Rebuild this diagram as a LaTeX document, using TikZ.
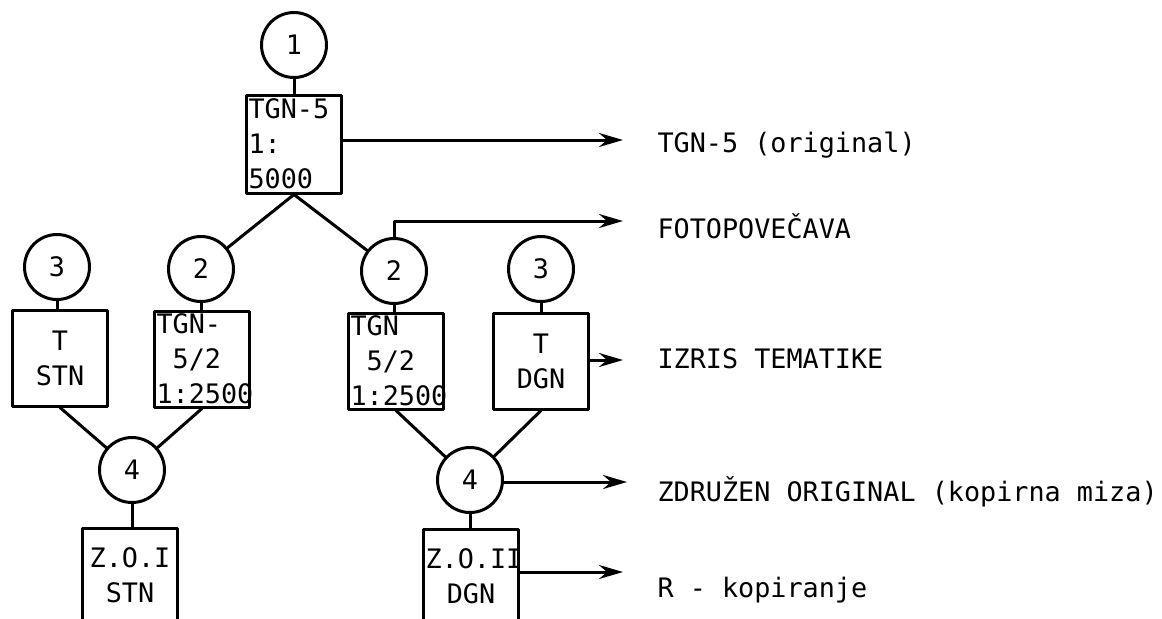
\documentclass[tikz,border=0pt]{standalone}
\usepackage{fontspec}
\newfontfamily\typefont{DejaVu Sans Mono}
\usetikzlibrary{arrows.meta}

\begin{document}
\begin{tikzpicture}[x=0.5pt, y=-0.5pt, line width=1.5pt, line cap=round, line join=round,
  every node/.style={font=\typefont\fontsize{13.4pt}{17.5pt}\selectfont},
  num/.style={draw, circle, minimum size=32.5pt, inner sep=0pt},
  card/.style={draw, rectangle, minimum width=47.5pt, minimum height=48pt,
    text width=45.5pt, inner sep=1pt, align=center},
  note/.style={anchor=base west, inner sep=0pt},
  arr/.style={-{Stealth[length=12pt, width=7pt, inset=4pt]}}]

  \useasboundingbox (0,0) rectangle (1162,618);

  % Top: original sheet
  \node[num] (c1) at (294,45) {1};
  \node[card, align=left, minimum height=49pt] (tgn5) at (294,144) {TGN-5\\1:\\5000};

  % Second row of steps
  \node[num] (c3l) at (57,267) {3};
  \node[num] (c2l) at (201,269) {2};
  \node[num] (c2r) at (394,271) {2};
  \node[num] (c3r) at (541,269) {3};

  \node[card] (tstn) at (60,358) {T\\STN};
  \node[card, align=left] (tgnl) at (202,359) {TGN-\\\hphantom{T}5/2\\1:2500};
  \node[card, align=left] (tgnr) at (396,361) {TGN\\\hphantom{T}5/2\\1:2500};
  \node[card] (tdgn) at (541,361) {T\\DGN};

  % Joined originals
  \node[num] (c4l) at (132,470) {4};
  \node[num] (c4r) at (470,480) {4};
  \node[card, anchor=north, minimum height=47pt] (zo1) at (130,527) {Z.O.I\\STN};
  \node[card, anchor=north, minimum height=47pt] (zo2) at (471,528) {Z.O.II\\DGN};

  % Connections
  \draw (c1.south) -- (c1.south |- tgn5.north);
  \draw (tgn5.south) -- (c2l);
  \draw (tgn5.south) -- (c2r);
  \draw (c3l.south) -- (c3l.south |- tstn.north);
  \draw (c2l.south) -- (c2l.south |- tgnl.north);
  \draw (c2r.south) -- (c2r.south |- tgnr.north);
  \draw (c3r.south) -- (c3r.south |- tdgn.north);
  \draw (tstn.south) -- (c4l);
  \draw (tgnl.south) -- (c4l);
  \draw (tgnr.south) -- (c4r);
  \draw (tdgn.south) -- (c4r);
  \draw (c4l.south) -- (c4l.south |- zo1.north);
  \draw (c4r.south) -- (c4r.south |- zo2.north);

  % Arrows to the descriptions
  \coordinate (a1) at (623,140);
  \coordinate (a2) at (623,221);
  \coordinate (a3) at (623,360);
  \coordinate (a4) at (627,482);
  \coordinate (a5) at (623,572);
  \draw[arr] (tgn5.east |- a1) -- (a1);
  \draw[arr] (c2r.north) |- (a2);
  \draw[arr] (tdgn.east |- a3) -- (a3);
  \draw[arr] (c4r.east |- a4) -- (a4);
  \draw[arr] (zo2.east |- a5) -- (a5);

  % Descriptions
  \node[note] (lorig) at (656,152) {TGN-5 (original)};
  \node[note] (lfoto) at (656,238) {FOTOPOVEČAVA};
  \node[note] (lizris) at (656,368) {IZRIS TEMATIKE};
  \node[note] (lzdruz) at (656,501) {ZDRUŽEN ORIGINAL (kopirna miza)};
  \node[note] (lkop) at (656,597) {R - kopiranje};

\end{tikzpicture}
\end{document}
